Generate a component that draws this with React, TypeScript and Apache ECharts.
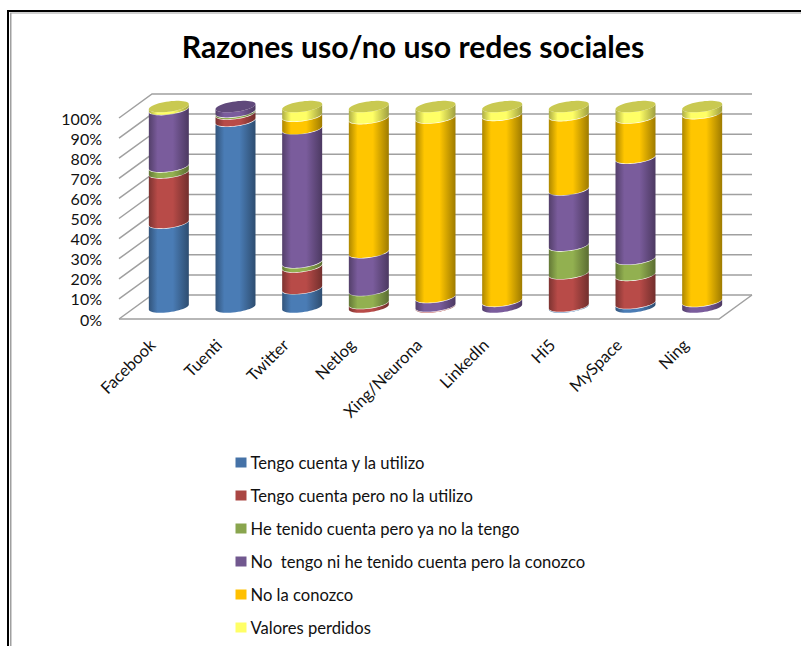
import React, { useEffect, useRef } from "react";
import * as echarts from "echarts";

const categories = ["Facebook", "Tuenti", "Twitter", "Netlog", "Xing/Neurona", "LinkedIn", "Hi5", "MySpace", "Ning"];
const seriesNames = [
  "Tengo cuenta y la utilizo",
  "Tengo cuenta pero no la utilizo",
  "He tenido cuenta pero ya no la tengo",
  "No  tengo ni he tenido cuenta pero la conozco",
  "No la conozco",
  "Valores perdidos",
];
const tengoUtilizo = [42, 92.7, 9.3, 0, 0, 0, 0.5, 2, 0];
const tengoNoUtilizo = [25, 3.6, 10.9, 2, 0.5, 0, 16.3, 14, 0];
const heTenido = [3, 0.9, 2.1, 6.5, 0, 0, 13.9, 8, 0];
const laConozco = [28.5, 2.8, 66.5, 18.8, 4.5, 3.1, 27.8, 50.3, 3];
const noConozco = [0, 0, 6.4, 66.7, 89.3, 92.5, 37, 20, 93.5];
const perdidos = [1.5, 0, 4.8, 6, 5.7, 4.4, 4.5, 5.7, 3.5];
const allValues = [tengoUtilizo, tengoNoUtilizo, heTenido, laConozco, noConozco, perdidos];
const yTicks = [0, 10, 20, 30, 40, 50, 60, 70, 80, 90, 100];

const colors = ["#4A7CB5", "#B84B48", "#92B050", "#7A5C9C", "#FFC600", "#FFFF66"];
const legendColors = ["#4572A7", "#AA4643", "#89A54E", "#71588F", "#FFC000", "#FFFF66"];

const FONT = "Lato";
const DEPTH_X = 33;
const DEPTH_Y = 24;
const RX = 20;
const RY = 5.2;
const SLOPE = 0.125;

function shade(hex: string, f: number) {
  const n = parseInt(hex.slice(1), 16);
  const c = [(n >> 16) & 255, (n >> 8) & 255, n & 255].map((v) => Math.round(v * f));
  return `rgb(${c[0]},${c[1]},${c[2]})`;
}

function arcFront(cx: number, cy: number) {
  const pts: number[][] = [];
  for (let k = 0; k <= 24; k++) {
    const t = Math.PI - (k / 24) * Math.PI;
    const dx = RX * Math.cos(t);
    pts.push([cx + dx, cy - SLOPE * dx + RY * Math.sin(t)]);
  }
  return pts;
}

function fullEllipse(cx: number, cy: number) {
  const pts: number[][] = [];
  for (let k = 0; k < 48; k++) {
    const t = (k / 48) * 2 * Math.PI;
    const dx = RX * Math.cos(t);
    pts.push([cx + dx, cy - SLOPE * dx + RY * Math.sin(t)]);
  }
  return pts;
}

function buildOption() {
  const cylinderSeries = allValues.map((values, s) => {
    const data = values.map((v, i) => {
      let start = 0;
      for (let k = 0; k < s; k++) start += allValues[k][i];
      let isTop = 1;
      for (let k = s + 1; k < allValues.length; k++) if (allValues[k][i] > 0) isTop = 0;
      return [i, start, start + v, isTop];
    });
    return {
      type: "custom",
      name: seriesNames[s],
      coordinateSystem: "cartesian2d",
      itemStyle: { color: legendColors[s] },
      encode: { x: 0, y: [1, 2] },
      silent: true,
      clip: false,
      z: 5,
      data,
      renderItem: (_p: any, api: any) => {
        const i = api.value(0);
        const a = api.value(1);
        const b = api.value(2);
        if (b - a <= 0) return { type: "group", children: [] };
        const p0 = api.coord([i, a]);
        const p1 = api.coord([i, b]);
        const cx = p0[0] + DEPTH_X / 2;
        const y0 = p0[1] - DEPTH_Y / 2;
        const y1 = p1[1] - DEPTH_Y / 2 + 0.6;
        const lower = arcFront(cx, y0);
        const upper = arcFront(cx, y1).reverse();
        const base = colors[s];
        const fill = new echarts.graphic.LinearGradient(0, 0, 1, 0, [
          { offset: 0, color: shade(base, 0.68) },
          { offset: 0.22, color: base },
          { offset: 0.6, color: base },
          { offset: 1, color: shade(base, 0.62) },
        ]);
        const children: any[] = [
          { type: "polygon", shape: { points: lower.concat(upper) }, style: { fill, stroke: null } },
        ];
        if (api.value(3)) {
          children.push({
            type: "polygon",
            shape: { points: fullEllipse(cx, y1) },
            style: { fill: shade(base, 0.79), stroke: null },
          });
        }
        return { type: "group", children };
      },
    };
  });

  const wallSeries = {
    type: "custom",
    name: "walls",
    coordinateSystem: "cartesian2d",
    silent: true,
    clip: false,
    z: 1,
    encode: { y: 1 },
    data: yTicks.map((t) => [0, t]),
    renderItem: (p: any, api: any) => {
      const sys = p.coordSys;
      const y = api.coord([0, api.value(1)])[1];
      const x = sys.x;
      const stroke = { stroke: "#A0A0A0", lineWidth: 1.5, fill: null };
      const children: any[] = [
        {
          type: "polyline",
          shape: {
            points: [
              [x, y],
              [x + DEPTH_X, y - DEPTH_Y],
              [x + sys.width + DEPTH_X, y - DEPTH_Y],
            ],
          },
          style: stroke,
        },
      ];
      if (api.value(1) === 0) {
        children.push({
          type: "polyline",
          shape: {
            points: [
              [x, y],
              [x + sys.width, y],
              [x + sys.width + DEPTH_X, y - DEPTH_Y],
            ],
          },
          style: stroke,
        });
      }
      return { type: "group", children };
    },
  };

  return {
    animation: false,
    backgroundColor: "#fff",
    textStyle: { fontFamily: FONT },
    title: {
      text: "Razones uso/no uso redes sociales",
      left: 408,
      top: 26,
      textAlign: "center",
      textStyle: { fontFamily: FONT, fontSize: 30.2, fontWeight: "bold", color: "#000" },
    },
    grid: { left: 119, top: 118, width: 600, height: 201, containLabel: false },
    xAxis: {
      type: "category",
      data: categories,
      axisLine: { show: false },
      axisTick: { show: false },
      splitLine: { show: false },
      axisLabel: {
        interval: 0,
        rotate: 45,
        margin: 23,
        fontFamily: FONT,
        fontSize: 16.5,
        color: "#111",
      },
    },
    yAxis: {
      type: "value",
      min: 0,
      max: 100,
      interval: 10,
      axisLine: { show: false },
      axisTick: { show: false },
      splitLine: { show: false },
      axisLabel: {
        formatter: "{value}%",
        margin: 17,
        fontFamily: FONT,
        fontSize: 16,
        color: "#111",
      },
    },
    legend: {
      orient: "vertical",
      left: 230.5,
      top: 449,
      itemWidth: 11,
      itemHeight: 10,
      itemGap: 16,
      icon: "rect",
      data: seriesNames,
      selectedMode: false,
      textStyle: { fontFamily: FONT, fontSize: 16.6, color: "#111", padding: [0, 0, 0, -1] },
    },
    graphic: [
      { type: "rect", shape: { x: 7, y: 10, width: 2, height: 636 }, style: { fill: "#000" }, silent: true },
      { type: "rect", shape: { x: 7, y: 10, width: 794, height: 2 }, style: { fill: "#000" }, silent: true },
      { type: "rect", shape: { x: 10, y: 13, width: 1.5, height: 633 }, style: { fill: "#A0A0A0" }, silent: true },
      { type: "rect", shape: { x: 10, y: 12.5, width: 791, height: 1 }, style: { fill: "#A0A0A0" }, silent: true },
    ],
    series: [wallSeries, ...cylinderSeries],
  };
}

export default function App() {
  const ref = useRef<HTMLDivElement>(null);
  useEffect(() => {
    const chart = echarts.init(ref.current!, undefined, { renderer: "svg" });
    chart.setOption(buildOption() as any);
    return () => chart.dispose();
  }, []);
  return <div ref={ref} style={{ position: "absolute", left: 0, top: 0, width: 801, height: 646 }} />;
}
